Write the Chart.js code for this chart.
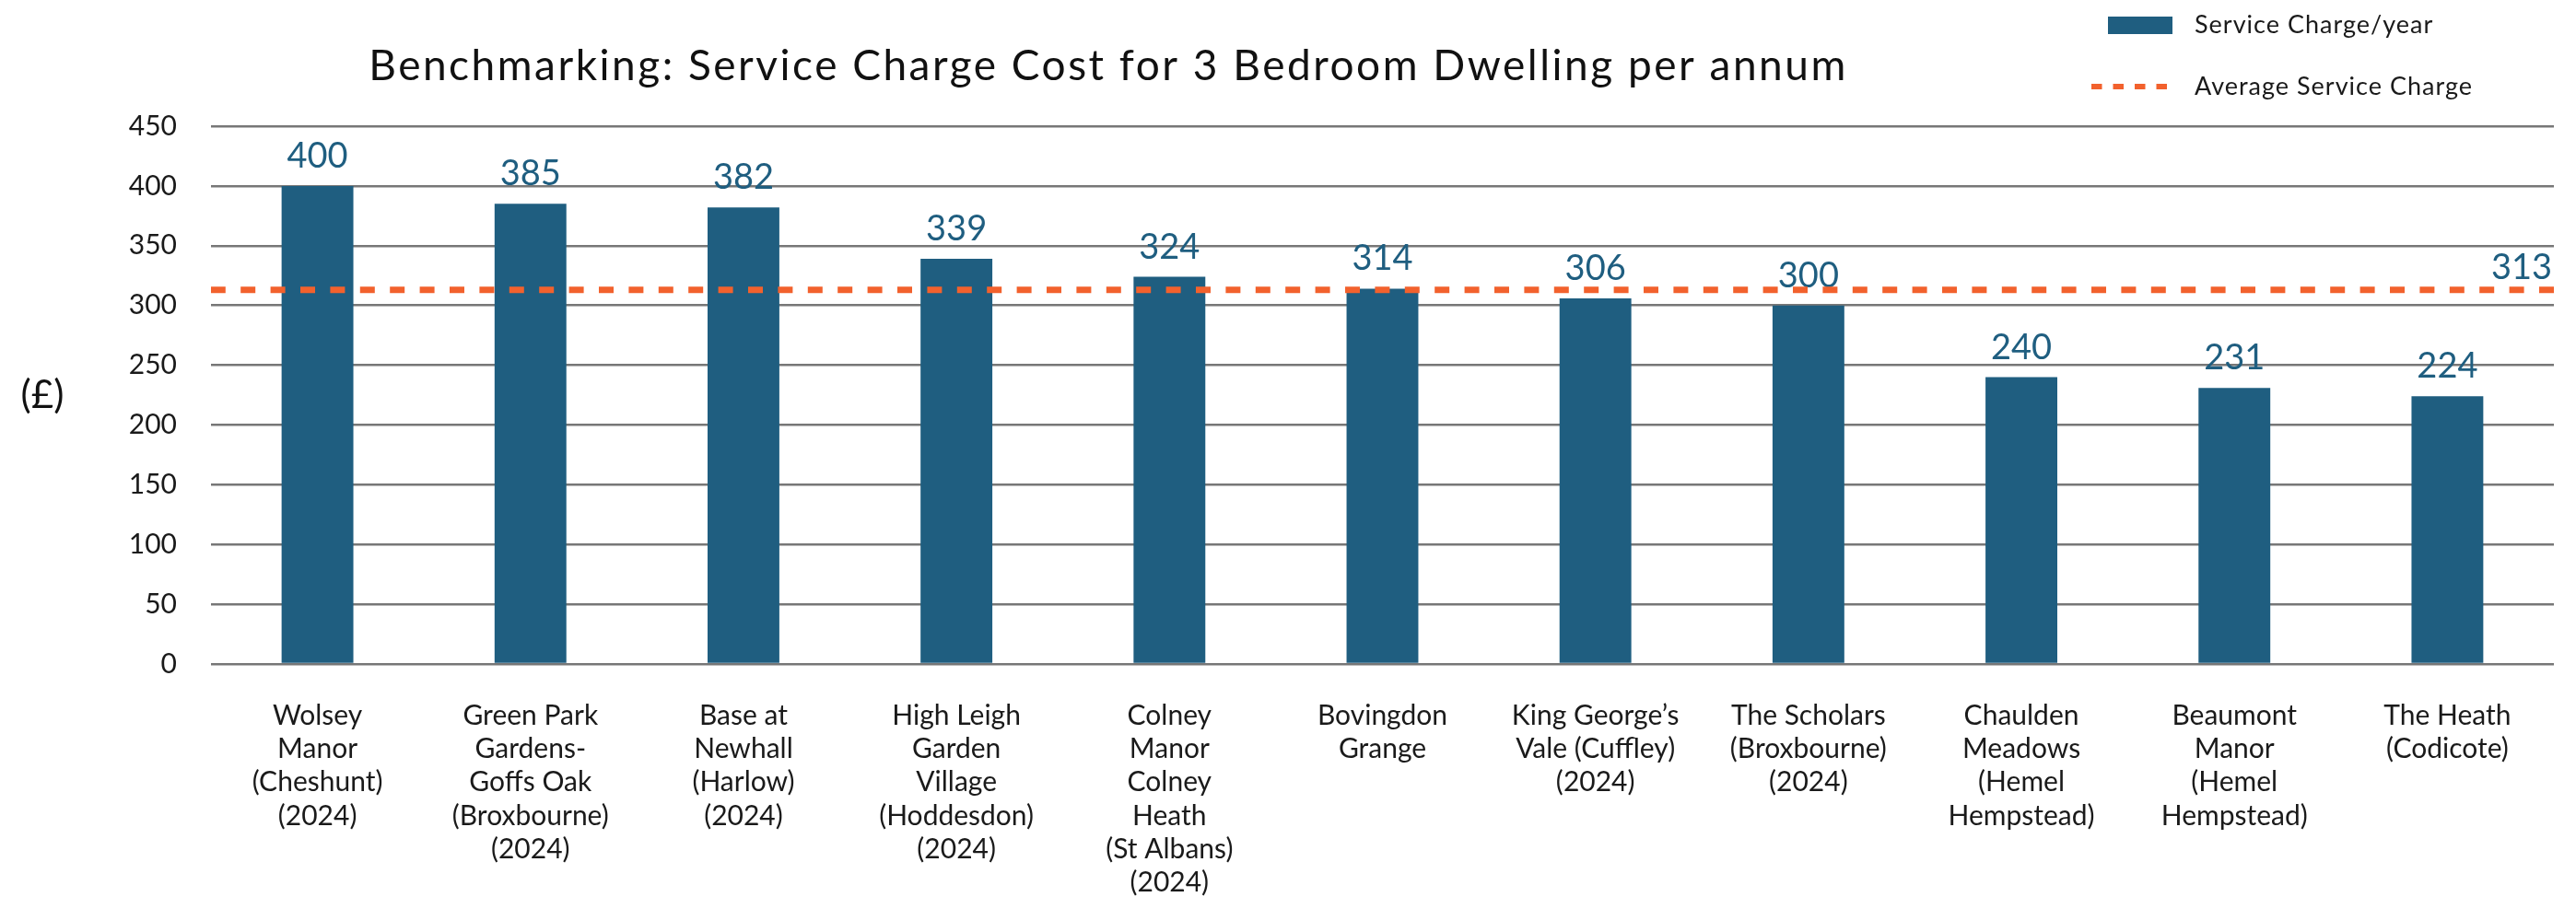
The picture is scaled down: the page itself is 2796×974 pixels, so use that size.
<!DOCTYPE html>
<html>
<head>
<meta charset="utf-8">
<script src="https://cdn.jsdelivr.net/npm/chart.js@4.4.1/dist/chart.umd.min.js"></script>
<style>
  html, body { margin: 0; padding: 0; background: #ffffff; }
  #wrap { width: 2796px; height: 974px; position: relative; }
</style>
</head>
<body>
<div id="wrap"><canvas id="serviceChargeChart"></canvas></div>
<script>
var chartTitle = "Benchmarking: Service Charge Cost for 3 Bedroom Dwelling per annum";
var yAxisTitle = "(£)";
var seriesLabels = ["Service Charge/year", "Average Service Charge"];
var developments = [
  ["Wolsey", "Manor", "(Cheshunt)", "(2024)"],
  ["Green Park", "Gardens-", "Goffs Oak", "(Broxbourne)", "(2024)"],
  ["Base at", "Newhall", "(Harlow)", "(2024)"],
  ["High Leigh", "Garden", "Village", "(Hoddesdon)", "(2024)"],
  ["Colney", "Manor", "Colney", "Heath", "(St Albans)", "(2024)"],
  ["Bovingdon", "Grange"],
  ["King George\u2019s", "Vale (Cuffley)", "(2024)"],
  ["The Scholars", "(Broxbourne)", "(2024)"],
  ["Chaulden", "Meadows", "(Hemel", "Hempstead)"],
  ["Beaumont", "Manor", "(Hemel", "Hempstead)"],
  ["The Heath", "(Codicote)"]
];
var serviceCharges = [400, 385, 382, 339, 324, 314, 306, 300, 240, 231, 224];
var averageCharge = 313;
var yRange = [0, 450];
var yStep = 50;

var BAR_BLUE = "#1f5e80";
var AVG_ORANGE = "#f2612d";
var FONT = "Lato, 'Open Sans', sans-serif";

// values above bars + the average line drawn across the plot on the y scale
var barValueLabels = {
  id: "barValueLabels",
  afterDatasetsDraw: function (chart) {
    var ctx = chart.ctx;
    var area = chart.chartArea;
    var meta = chart.getDatasetMeta(0);
    var avgY = chart.scales.y.getPixelForValue(averageCharge);
    ctx.save();
    ctx.font = "38px " + FONT;
    ctx.fillStyle = BAR_BLUE;
    ctx.textAlign = "center";
    ctx.textBaseline = "alphabetic";
    meta.data.forEach(function (bar, i) {
      ctx.fillText(String(chart.data.datasets[0].data[i]), bar.x, bar.y - 20);
    });

    // average line, dashes start from the right edge
    ctx.strokeStyle = AVG_ORANGE;
    ctx.lineWidth = 7;
    ctx.setLineDash([16, 16.4]);
    ctx.beginPath();
    ctx.moveTo(area.right, avgY);
    ctx.lineTo(area.left, avgY);
    ctx.stroke();
    ctx.setLineDash([]);

    ctx.font = "38px " + FONT;
    ctx.textAlign = "right";
    ctx.fillText(String(averageCharge), area.right - 2, avgY - 12);
    ctx.restore();
  }
};

// title, y axis caption and legend
var chartDecor = {
  id: "chartDecor",
  afterDraw: function (chart) {
    var ctx = chart.ctx;
    var area = chart.chartArea;
    ctx.save();

    ctx.fillStyle = "#111111";
    ctx.font = "46px " + FONT;
    ctx.letterSpacing = "2.5px";
    ctx.textAlign = "center";
    ctx.textBaseline = "middle";
    ctx.fillText(chartTitle, 1203, 72);
    ctx.letterSpacing = "0px";

    ctx.font = "42px " + FONT;
    ctx.fillText(yAxisTitle, 46, (area.top + area.bottom) / 2);

    // legend
    ctx.fillStyle = BAR_BLUE;
    ctx.fillRect(2288, 18, 70, 19);
    ctx.strokeStyle = AVG_ORANGE;
    ctx.lineWidth = 6;
    ctx.setLineDash([11.5, 12]);
    ctx.beginPath();
    ctx.moveTo(2270, 94);
    ctx.lineTo(2354, 94);
    ctx.stroke();
    ctx.setLineDash([]);
    ctx.fillStyle = "#1a1a1a";
    ctx.font = "27px " + FONT;
    ctx.letterSpacing = "1px";
    ctx.textAlign = "left";
    ctx.textBaseline = "middle";
    ctx.fillText(seriesLabels[0], 2382, 27);
    ctx.fillText(seriesLabels[1], 2382, 94);
    ctx.letterSpacing = "0px";

    ctx.restore();
  }
};

var ctx = document.getElementById("serviceChargeChart").getContext("2d");
var serviceChargeChart = new Chart(ctx, {
  type: "bar",
  data: {
    labels: developments,
    datasets: [
      {
        label: seriesLabels[0],
        data: serviceCharges,
        backgroundColor: BAR_BLUE,
        barPercentage: 0.337,
        categoryPercentage: 1.0
      }
    ]
  },
  options: {
    responsive: true,
    maintainAspectRatio: false,
    animation: false,
    layout: { padding: { top: 137, right: 24, bottom: 0, left: 0 } },
    plugins: {
      legend: { display: false },
      title: { display: false },
      tooltip: { enabled: false }
    },
    scales: {
      x: {
        grid: { display: false, drawTicks: false },
        border: { display: false },
        ticks: {
          autoSkip: false,
          maxRotation: 0,
          minRotation: 0,
          padding: 38,
          color: "#1a1a1a",
          font: { family: FONT, size: 30, lineHeight: 1.21 }
        },
        afterFit: function (scale) { scale.height = 253; }
      },
      y: {
        min: yRange[0],
        max: yRange[1],
        grid: { color: "#777777", lineWidth: 2.5, drawTicks: false },
        border: { display: false },
        ticks: {
          stepSize: yStep,
          padding: 37,
          color: "#1a1a1a",
          font: { family: FONT, size: 30 }
        },
        afterFit: function (scale) { scale.width = 229; }
      }
    }
  },
  plugins: [barValueLabels, chartDecor]
});
</script>
</body>
</html>
